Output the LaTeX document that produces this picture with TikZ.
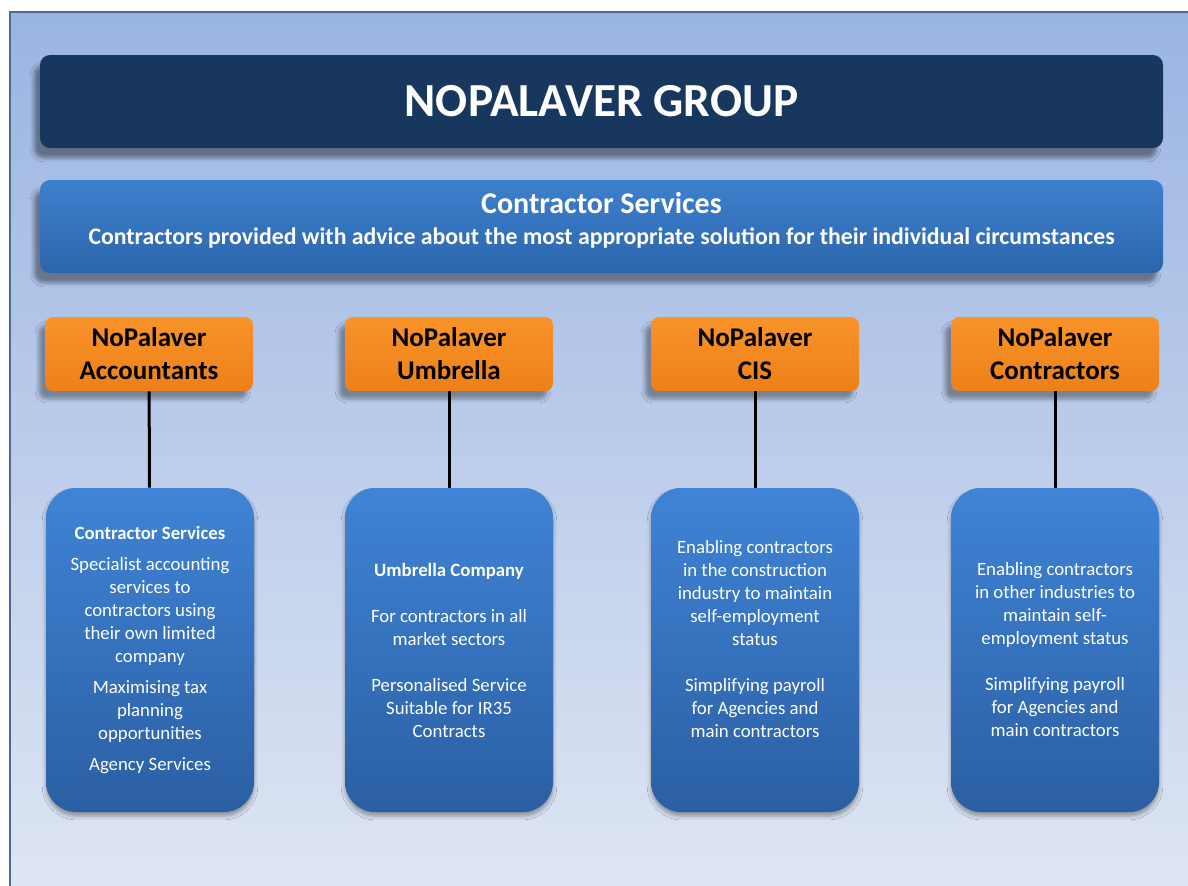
\documentclass[tikz,border=0pt]{standalone}
\usepackage{fontspec}
\setmainfont{Carlito}
\usetikzlibrary{shadows.blur}
\definecolor{framecol}{HTML}{4A6A98}
\definecolor{bgtop}{HTML}{9AB4E2}
\definecolor{bgbot}{HTML}{DFE6F3}
\definecolor{navy}{HTML}{17375E}
\definecolor{bandtop}{HTML}{3E80CE}
\definecolor{bandbot}{HTML}{2C66AC}
\definecolor{orgtop}{HTML}{F8942A}
\definecolor{orgbot}{HTML}{EE8018}
\definecolor{boxtop}{HTML}{3F84D6}
\definecolor{boxbot}{HTML}{2B5FA3}
\tikzset{
  headbox/.style={fill=navy, rounded corners=5pt, minimum width=561.5pt, minimum height=46.5pt,
    text=white, font=\bfseries\fontsize{23.7}{28}\selectfont,
    blur shadow={shadow xshift=-3pt, shadow yshift=-5pt, shadow opacity=40}},
  bandbox/.style={top color=bandtop, bottom color=bandbot, rounded corners=5pt,
    minimum width=561.5pt, minimum height=46.5pt, inner ysep=1pt, text depth=8pt,
    text=white, align=center,
    blur shadow={shadow xshift=-3pt, shadow yshift=-5pt, shadow opacity=40}},
  firmbox/.style={top color=orgtop, bottom color=orgbot, rounded corners=4pt,
    minimum width=104pt, minimum height=37pt, align=center,
    font=\bfseries\fontsize{13.5}{16.5}\selectfont,
    blur shadow={shadow xshift=-3pt, shadow yshift=-4pt, shadow opacity=35}},
  infobox/.style={top color=boxtop, bottom color=boxbot, rounded corners=15pt,
    minimum width=104pt, minimum height=162pt, align=center,
    text=white, font=\fontsize{9.4}{11.5}\selectfont,
    blur shadow={shadow xshift=0pt, shadow yshift=-2pt, shadow opacity=35}},
  link/.style={line width=1.5pt, black}
}
\begin{document}
\begin{tikzpicture}[x=0.5pt, y=-0.5pt]
  \useasboundingbox (0,0) rectangle (1188,885);
  % background panel
  \shade[top color=bgtop, bottom color=bgbot] (10,12) rectangle (1200,900);
  \draw[framecol, line width=1pt] (10,900) -- (10,12) -- (1200,12);

  \node[headbox] (group) at (601.5,101.5) {NOPALAVER GROUP};
  \node[bandbox] (services) at (601.5,226.5)
    {{\bfseries\fontsize{15}{18}\selectfont Contractor Services}\\[3.5pt]
     {\bfseries\fontsize{11.9}{14}\selectfont Contractors provided with advice about the most appropriate solution for their individual circumstances}};

  % the four companies
  \node[firmbox] (acc) at (149,354) {NoPalaver\\Accountants};
  \node[firmbox] (umb) at (449,354) {NoPalaver\\Umbrella};
  \node[firmbox] (cis) at (755,354) {NoPalaver\\CIS};
  \node[firmbox] (con) at (1055,354) {NoPalaver\\Contractors};

  \node[infobox] (accinfo) at (150,650) {\textbf{Contractor Services}\\[4pt]
    Specialist accounting\\services to\\contractors using\\their own limited\\company\\[4pt]
    Maximising tax\\planning\\opportunities\\[4pt]
    Agency Services};
  \node[infobox] (umbinfo) at (449,650) {\textbf{Umbrella Company}\\~\\
    For contractors in all\\market sectors\\~\\
    Personalised Service\\Suitable for IR35\\Contracts};
  \node[infobox] (cisinfo) at (755,650) {Enabling contractors\\in the construction\\industry to maintain\\self-employment\\status\\~\\
    Simplifying payroll\\for Agencies and\\main contractors\\~};
  \node[infobox] (coninfo) at (1055,650) {Enabling contractors\\in other industries to\\maintain self-\\employment status\\~\\
    Simplifying payroll\\for Agencies and\\main contractors};

  \draw[link] (acc) -- (accinfo);
  \draw[link] (umb) -- (umbinfo);
  \draw[link] (cis) -- (cisinfo);
  \draw[link] (con) -- (coninfo);
\end{tikzpicture}
\end{document}
